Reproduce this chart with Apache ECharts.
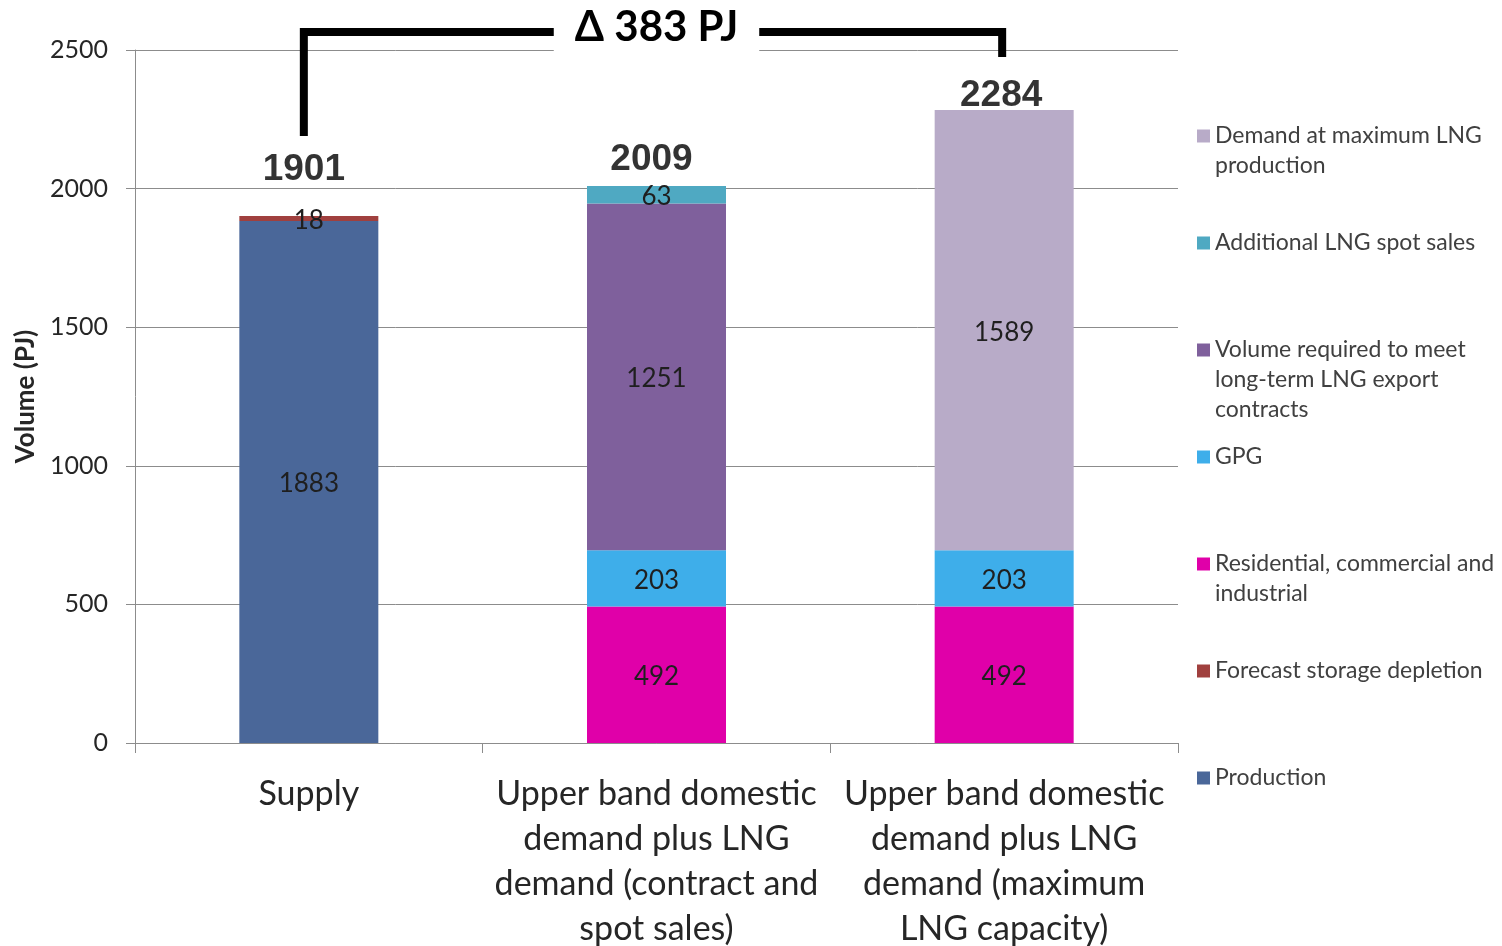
<!DOCTYPE html>
<html>
<head>
<meta charset="utf-8">
<script src="https://cdn.jsdelivr.net/npm/echarts@6/dist/echarts.min.js"></script>
<style>
  html, body { margin: 0; padding: 0; background: #fff; }
  #chart { width: 1502px; height: 946px; }
</style>
</head>
<body>
<div id="chart"></div>
<script>
// categories on the x axis
const categories = [
  'Supply',
  'Upper band domestic\ndemand plus LNG\ndemand (contract and\nspot sales)',
  'Upper band domestic\ndemand plus LNG\ndemand (maximum\nLNG capacity)'
];
// stacked segments, bottom to top (PJ)
const production       = [1883, null, null];
const storageDepletion = [18, null, null];
const residential      = [null, 492, 492];
const gpg              = [null, 203, 203];
const ltContracts      = [null, 1251, null];
const spotSales        = [null, 63, null];
const maxLng           = [null, null, 1589];
// y axis ticks
const yMin = 0, yMax = 2500, yStep = 500;

const seriesDefs = [
  { name: 'Production', data: production, color: '#4a6799' },
  { name: 'Forecast storage depletion', data: storageDepletion, color: '#a0403e' },
  { name: 'Residential, commercial and industrial', data: residential, color: '#e000a9' },
  { name: 'GPG', data: gpg, color: '#3eaeea' },
  { name: 'Volume required to meet long-term LNG export contracts', data: ltContracts, color: '#7f609c' },
  { name: 'Additional LNG spot sales', data: spotSales, color: '#4fa9c2' },
  { name: 'Demand at maximum LNG production', data: maxLng, color: '#b8abc8' }
];
// how legend names wrap
const legendText = {
  'Demand at maximum LNG production': 'Demand at maximum LNG\nproduction',
  'Volume required to meet long-term LNG export contracts': 'Volume required to meet\nlong-term LNG export\ncontracts',
  'Residential, commercial and industrial': 'Residential, commercial and\nindustrial'
};

const totals = categories.map((c, i) =>
  seriesDefs.reduce((s, d) => s + (d.data[i] || 0), 0));

const FONT = 'Lato, "Open Sans", sans-serif';
const TEXT = '#262626';
const GRID = '#8c8c8c';

const chart = echarts.init(document.getElementById('chart'));

// one legend per row so rows sit at even steps whatever their line count;
// blank lines on top keep the marker level with the first text line
const legendRows = seriesDefs.slice().reverse();
const LH = 30;
const legends = legendRows.map((d, i) => {
  const lines = (legendText[d.name] || d.name).split('\n');
  const n = lines.length;
  const rowY = 136 + i * 107;
  return {
    data: [d.name],
    left: 1197,
    top: rowY - (2 * n - 1) * LH / 2,
    orient: 'vertical',
    padding: 0,
    icon: 'rect',
    itemWidth: 13,
    itemHeight: 13,
    selectedMode: false,
    formatter: () => new Array(n).join(' \n') + lines.join('\n'),
    textStyle: { fontFamily: FONT, fontSize: 23, lineHeight: LH, color: '#404040' }
  };
});

const labelLift = [28, 8, -4];
const labelShift = [-5, -5, -3];

const option = {
  animation: false,
  backgroundColor: '#fff',
  legend: legends,
  grid: { left: 135, right: 324, top: 50, bottom: 203, outerBoundsMode: 'none', containLabel: false },
  xAxis: {
    type: 'category',
    data: categories,
    axisLine: { lineStyle: { color: GRID, width: 1 } },
    axisTick: { show: true, length: 10, lineStyle: { color: GRID } },
    axisLabel: {
      interval: 0, margin: 29, color: TEXT,
      fontFamily: FONT, fontSize: 34, lineHeight: 45
    }
  },
  yAxis: {
    type: 'value',
    min: yMin, max: yMax, interval: yStep,
    name: 'Volume (PJ)',
    nameLocation: 'middle',
    nameGap: 88,
    nameTextStyle: { fontFamily: FONT, fontSize: 26, fontWeight: 'bold', color: TEXT },
    axisLine: { show: true, lineStyle: { color: GRID, width: 1 } },
    axisTick: { show: true, length: 9, lineStyle: { color: GRID } },
    splitLine: { lineStyle: { color: GRID, width: 1 } },
    axisLabel: {
      margin: 27, color: TEXT, fontFamily: FONT, fontSize: 25,
      formatter: v => String(v)
    }
  },
  series: seriesDefs.map(d => ({
    name: d.name,
    type: 'bar',
    stack: 'total',
    barWidth: 139,
    data: d.data,
    itemStyle: { color: d.color },
    label: {
      show: true,
      position: 'inside',
      offset: [0, 2],
      color: '#1f1f1f',
      fontFamily: FONT,
      fontSize: 26,
      formatter: p => p.value
    }
  })).concat([{
    name: 'Total',
    type: 'scatter',
    symbolSize: 0,
    silent: true,
    data: totals.map((t, i) => ({
      value: t,
      label: { distance: labelLift[i], offset: [labelShift[i], 0] }
    })),
    label: {
      show: true,
      position: 'top',
      color: '#000',
      fontFamily: '"Liberation Sans Narrow", "Liberation Sans", Arial, sans-serif',
      fontWeight: 'bold',
      fontSize: 37,
      formatter: p => p.value
    }
  }])
};

chart.setOption(option);

// bracket showing the gap between supply and maximum demand
const px = i => chart.convertToPixel({ xAxisIndex: 0 }, categories[i]);
const py = v => chart.convertToPixel({ yAxisIndex: 0 }, v);
const topY = py(2565);
const leftX = px(0) - 5;
const rightX = px(2) - 2;
chart.setOption({
  graphic: [
    {
      type: 'polyline',
      z: 100,
      shape: { points: [[leftX, py(2190)], [leftX, topY], [rightX, topY], [rightX, py(2475)]] },
      style: { stroke: '#000', lineWidth: 8, fill: null, lineJoin: 'miter', lineCap: 'butt' }
    },
    {
      type: 'text',
      z: 101,
      x: px(1),
      y: topY - 5,
      style: {
        text: 'Δ ' + (totals[2] - totals[0]) + ' PJ',
        fontFamily: FONT, fontWeight: 'bold', fontSize: 42, fill: '#000',
        align: 'center', verticalAlign: 'middle',
        backgroundColor: '#fff', padding: [2, 21, 8, 21]
      }
    }
  ]
});
</script>
</body>
</html>
